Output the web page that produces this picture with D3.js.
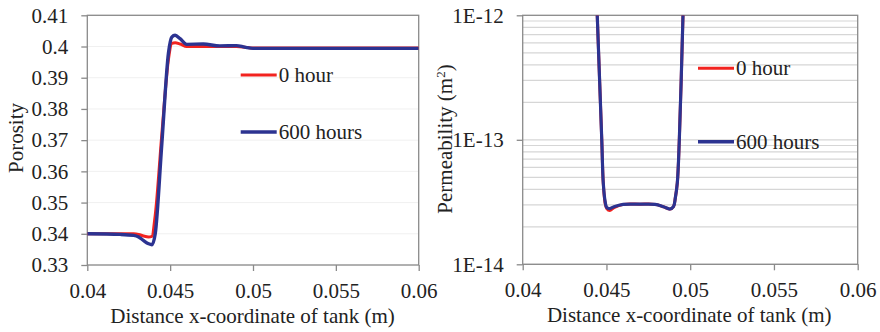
<!DOCTYPE html>
<html>
<head>
<meta charset="utf-8">
<script src="https://cdn.jsdelivr.net/npm/d3@7"></script>
<style>
  html, body { margin: 0; padding: 0; background: #fff; }
  svg { display: block; font-family: 'Liberation Serif', serif; }
  svg text { font-family: 'Liberation Serif', serif !important; }
</style>
</head>
<body>
<svg id="chart" width="880" height="332"></svg>
<script>
// Porosity profile across the tank
const porosityX = [0.040, 0.042, 0.0428, 0.0431, 0.0434, 0.0437, 0.0439, 0.0441, 0.0445, 0.0449, 0.0451, 0.0453, 0.0456, 0.046, 0.047, 0.048, 0.049, 0.0495, 0.050, 0.055, 0.060];
const porosity0h = [0.340, 0.340, 0.3400, 0.3398, 0.3393, 0.3390, 0.3392, 0.3460, 0.3720, 0.3960, 0.4010, 0.4012, 0.4008, 0.4000, 0.4000, 0.4000, 0.4000, 0.3998, 0.3995, 0.3995, 0.3995];
const porosity600h = [0.340, 0.3398, 0.3395, 0.3390, 0.3378, 0.3368, 0.3365, 0.3400, 0.3690, 0.3980, 0.4030, 0.4036, 0.4025, 0.4007, 0.4008, 0.4002, 0.4003, 0.3998, 0.3994, 0.3994, 0.3994];

// Permeability profile across the tank (m^2)
const permX = [0.04445, 0.04472, 0.04481, 0.04492, 0.04502, 0.04520, 0.04545, 0.04600, 0.04700, 0.04790, 0.04840, 0.04880, 0.04900, 0.04911, 0.04923, 0.04935, 0.04957];
const perm0h = [1e-12, 1e-13, 4.5e-14, 3.1e-14, 2.8e-14, 2.7e-14, 2.85e-14, 3.03e-14, 3.04e-14, 3.03e-14, 2.9e-14, 2.78e-14, 2.9e-14, 3.4e-14, 4.5e-14, 1e-13, 1e-12];
const perm600h = [1e-12, 1e-13, 4.5e-14, 3.2e-14, 2.85e-14, 2.8e-14, 2.9e-14, 3.03e-14, 3.04e-14, 3.03e-14, 2.9e-14, 2.78e-14, 2.9e-14, 3.4e-14, 4.5e-14, 1e-13, 1e-12];

const xTicks = [0.04, 0.045, 0.05, 0.055, 0.06];
const porosityTicks = [0.33, 0.34, 0.35, 0.36, 0.37, 0.38, 0.39, 0.40, 0.41];
const porosityTickLabels = ["0.33", "0.34", "0.35", "0.36", "0.37", "0.38", "0.39", "0.4", "0.41"];
const permTicks = [1e-14, 1e-13, 1e-12];
const permTickLabels = ["1E-14", "1E-13", "1E-12"];
const seriesNames = ["0 hour", "600 hours"];
const seriesColors = ["#f2231f", "#2c3391"];
const xTitle = "Distance x-coordinate of tank (m)";

const FONT = "Liberation Serif, serif";
const svg = d3.select("#chart").attr("font-family", FONT);
const FS = 21;
const axisColor = "#8a8a8a";
const ink = "#222";

function txt(g) {
  return g.append("text").attr("font-family", FONT).style("font-family", FONT)
    .attr("font-size", FS).attr("fill", ink);
}

function drawFrame(g, x, y, w, h) {
  g.append("rect").attr("x", x).attr("y", y).attr("width", w).attr("height", h)
    .attr("fill", "none").attr("stroke", axisColor).attr("stroke-width", 1.3);
}

function styleAxis(sel) {
  sel.attr("font-family", FONT).attr("font-size", FS);
  sel.select(".domain").remove();
  sel.selectAll(".tick line").attr("stroke", axisColor).attr("stroke-width", 1.3);
  sel.selectAll(".tick text").attr("fill", ink).style("font-family", FONT);
}

function drawLegend(g, x0, y0, y1) {
  [y0, y1].forEach((yy, i) => {
    g.append("line").attr("x1", x0).attr("x2", x0 + 36).attr("y1", yy).attr("y2", yy)
      .attr("stroke", seriesColors[i]).attr("stroke-width", i === 0 ? 3 : 3.4);
    txt(g).attr("x", x0 + 38).attr("y", yy + 7).text(seriesNames[i]);
  });
}

// ---------- Left panel: porosity ----------
{
  const L = { x0: 87.3, x1: 418.7, y0: 15.3, y1: 265 };
  const x = d3.scaleLinear().domain([0.04, 0.06]).range([L.x0, L.x1]);
  const y = d3.scaleLinear().domain([0.33, 0.41]).range([L.y1, L.y0]);
  const g = svg.append("g");

  // faint horizontal gridlines
  g.append("g").selectAll("line").data(porosityTicks).join("line")
    .attr("x1", L.x0).attr("x2", L.x1).attr("y1", d => y(d)).attr("y2", d => y(d))
    .attr("stroke", "#f0f0f0").attr("stroke-width", 1);

  drawFrame(g, L.x0, L.y0, L.x1 - L.x0, L.y1 - L.y0);

  g.append("g").attr("transform", `translate(${L.x0},0)`)
    .call(d3.axisLeft(y).tickValues(porosityTicks).tickFormat((d, i) => porosityTickLabels[i]).tickSize(6).tickPadding(13))
    .call(styleAxis);
  g.append("g").attr("transform", `translate(0,${L.y1})`)
    .call(d3.axisBottom(x).tickValues(xTicks).tickFormat(d3.format("")).tickSize(6).tickPadding(12))
    .call(styleAxis);

  g.append("defs").append("clipPath").attr("id", "clipL").append("rect")
    .attr("x", L.x0).attr("y", L.y0).attr("width", L.x1 - L.x0).attr("height", L.y1 - L.y0);

  const line = d3.line().x(d => x(d[0])).y(d => y(d[1])).curve(d3.curveMonotoneX);
  [porosity0h, porosity600h].forEach((vals, i) => {
    g.append("path").datum(porosityX.map((v, j) => [v, vals[j]]))
      .attr("clip-path", "url(#clipL)")
      .attr("d", line).attr("fill", "none").attr("stroke", seriesColors[i])
      .attr("stroke-width", i === 0 ? 3 : 3.4).attr("stroke-linejoin", "round");
  });

  drawLegend(g, 240.7, 75, 132);

  txt(g).attr("transform", `translate(23,138) rotate(-90)`)
    .attr("text-anchor", "middle").text("Porosity");
  txt(g).attr("x", (L.x0 + L.x1) / 2 - 0.5).attr("y", 323)
    .attr("text-anchor", "middle").text(xTitle);
}

// ---------- Right panel: permeability ----------
{
  const R = { x0: 522.7, x1: 857.7, y0: 15.3, y1: 264.3 };
  const x = d3.scaleLinear().domain([0.04, 0.06]).range([R.x0, R.x1]);
  const y = d3.scaleLog().domain([1e-14, 1e-12]).range([R.y1, R.y0]);
  const g = svg.append("g");

  // gridlines at every step within each decade
  const grid = [];
  for (let e = -14; e < -12; e++) for (let m = 1; m <= 9; m++) grid.push(m * Math.pow(10, e));
  g.append("g").selectAll("line").data(grid).join("line")
    .attr("x1", R.x0).attr("x2", R.x1).attr("y1", d => y(d)).attr("y2", d => y(d))
    .attr("stroke", "#d6d6d6").attr("stroke-width", 1.2);

  drawFrame(g, R.x0, R.y0, R.x1 - R.x0, R.y1 - R.y0);

  g.append("g").attr("transform", `translate(${R.x0},0)`)
    .call(d3.axisLeft(y).tickValues(permTicks).tickFormat((d, i) => permTickLabels[i]).tickSize(6).tickPadding(13))
    .call(styleAxis);
  g.append("g").attr("transform", `translate(0,${R.y1})`)
    .call(d3.axisBottom(x).tickValues(xTicks).tickFormat(d3.format("")).tickSize(6).tickPadding(12))
    .call(styleAxis);

  g.append("defs").append("clipPath").attr("id", "clipR").append("rect")
    .attr("x", R.x0).attr("y", R.y0).attr("width", R.x1 - R.x0).attr("height", R.y1 - R.y0);

  const line = d3.line().x(d => x(d[0])).y(d => y(d[1])).curve(d3.curveCatmullRom.alpha(0.5));
  [perm0h, perm600h].forEach((vals, i) => {
    g.append("path").datum(permX.map((v, j) => [v, vals[j]]))
      .attr("clip-path", "url(#clipR)")
      .attr("d", line).attr("fill", "none").attr("stroke", seriesColors[i])
      .attr("stroke-width", i === 0 ? 3 : 3.2).attr("stroke-linejoin", "round");
  });

  drawLegend(g, 698, 68.3, 141.7);

  const t = txt(g).attr("transform", `translate(452,139) rotate(-90)`)
    .attr("text-anchor", "middle");
  t.append("tspan").text("Permeability  (m");
  t.append("tspan").attr("baseline-shift", "super").attr("font-size", 13).text("2");
  t.append("tspan").text(")");
  txt(g).attr("x", (R.x0 + R.x1) / 2 - 1).attr("y", 322)
    .attr("text-anchor", "middle").text(xTitle);
}
</script>
</body>
</html>
